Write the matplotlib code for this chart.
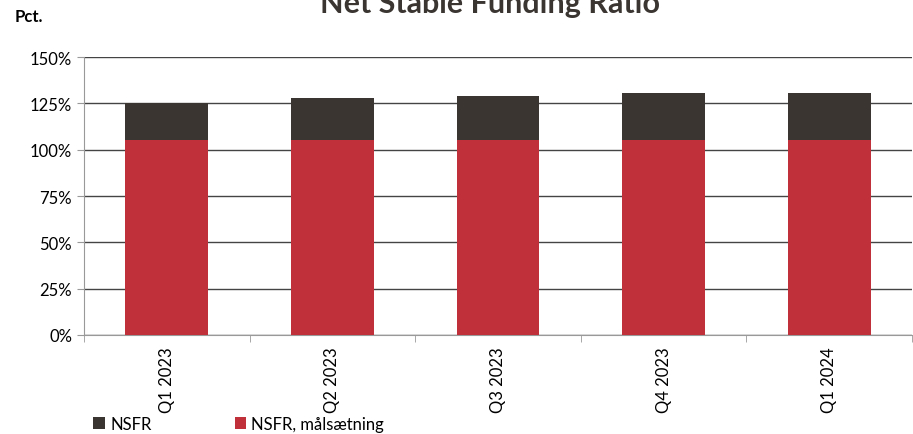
import matplotlib.pyplot as plt
import numpy as np

plt.rcParams['font.family'] = ['Lato', 'DejaVu Sans']

quarters = ["Q1 2023", "Q2 2023", "Q3 2023", "Q4 2023", "Q1 2024"]
nsfr = [125.3, 127.9, 129.0, 130.8, 130.8]
target = [105, 105, 105, 105, 105]

fig = plt.figure(figsize=(9.13, 4.35), dpi=100)
ax = fig.add_axes([0.092, 0.2276, 0.907, 0.639])

x = np.arange(len(quarters))
ax.bar(x, nsfr, width=0.5, color="#3a3531", label="NSFR", zorder=3)
ax.bar(x, target, width=0.5, color="#c0303a", label="NSFR, målsætning", zorder=4)

ax.set_xlim(-0.5, len(quarters) - 0.5)
ax.set_ylim(0, 150)
ax.set_yticks(np.arange(0, 151, 25))
ax.set_yticklabels([f"{v}%" for v in range(0, 151, 25)], fontsize=12)
ax.yaxis.grid(True, color="#444444", linewidth=1, zorder=0)
ax.tick_params(axis="y", length=5, color="#999999")

ax.set_xticks(x)
ax.set_xticklabels(quarters, rotation=90, fontsize=12)
ax.tick_params(axis="x", length=0, pad=8)
ax.set_xticks(np.arange(-0.5, len(quarters), 1), minor=True)
ax.tick_params(axis="x", which="minor", length=5, color="#999999")

for s in ["top", "right"]:
    ax.spines[s].set_visible(False)
ax.spines["left"].set_color("#999999")
ax.spines["bottom"].set_color("#999999")

fig.text(0.537, 0.99, "Net Stable Funding Ratio", fontsize=22, fontweight="bold",
         color="#3a3531", ha="center", va="center")
fig.text(0.016, 0.96, "Pct.", fontsize=12, fontweight="bold", va="center")

fig.legend(loc="lower left", bbox_to_anchor=(0.095, -0.01), ncol=2, frameon=False,
           fontsize=12, handlelength=0.7, handleheight=0.7, handletextpad=0.3,
           columnspacing=5.0, borderaxespad=0)

fig.savefig("out.png", dpi=100)
